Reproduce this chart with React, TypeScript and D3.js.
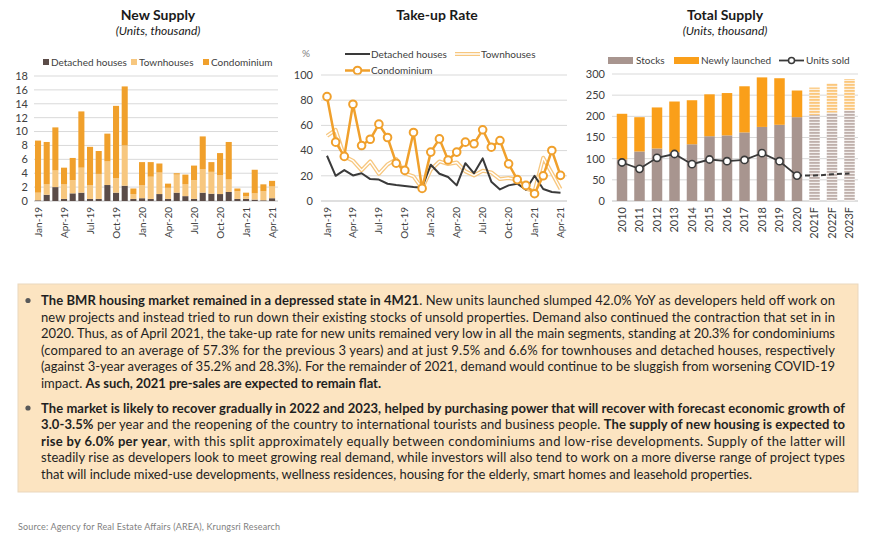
import * as d3 from "d3";

// ---- New Supply (units, thousand) ----
const months = [
  "Jan-19", "Feb-19", "Mar-19", "Apr-19", "May-19", "Jun-19", "Jul-19", "Aug-19", "Sep-19", "Oct-19", "Nov-19", "Dec-19",
  "Jan-20", "Feb-20", "Mar-20", "Apr-20", "May-20", "Jun-20", "Jul-20", "Aug-20", "Sep-20", "Oct-20", "Nov-20", "Dec-20",
  "Jan-21", "Feb-21", "Mar-21", "Apr-21",
];
const monthTicks = ["Jan-19", "Apr-19", "Jul-19", "Oct-19", "Jan-20", "Apr-20", "Jul-20", "Oct-20", "Jan-21", "Apr-21"];
const supplyDetached = [0.1, 0.9, 2.0, 0.3, 1.1, 1.2, 0.3, 0.3, 2.3, 1.2, 2.2, 0.3, 0.4, 0.3, 1.0, 0.3, 1.2, 0.7, 0.3, 1.2, 1.05, 1.0, 1.3, 0.3, 0.3, 0.2, 0.1, 0.4];
const supplyTownhouses = [1.1, 1.5, 2.4, 2.1, 1.9, 3.6, 2.0, 3.6, 3.4, 2.1, 5.8, 0.7, 1.9, 3.2, 3.1, 1.6, 2.6, 1.7, 2.7, 3.4, 3.15, 2.7, 1.8, 1.1, 0.4, 0.9, 1.3, 1.7];
const supplyCondo = [7.5, 6.1, 6.2, 2.4, 3.2, 8.1, 5.5, 3.3, 4.0, 10.4, 8.5, 0.8, 3.3, 2.1, 1.3, 0.6, 0.2, 1.4, 2.1, 4.7, 1.4, 3.2, 5.4, 0.4, 0.5, 3.4, 1.0, 0.8];
const supplyTicks = [0, 2, 4, 6, 8, 10, 12, 14, 16, 18];

// ---- Take-up rate (%) ----
const takeDetached = [35.9, 20, 24.5, 20.3, 22, 17.4, 17, 13.7, 12.7, 11.9, 11.1, 10.6, 28.8, 21.6, 19, 12.4, 30, 22, 33.8, 15.3, 9.2, 12.4, 13.7, 9, 20, 9.5, 7.1, 6.6];
const takeTownhouses = [51.7, 56.5, 35.4, 32, 24.3, 31.4, 21.6, 29, 33.2, 22, 19.5, 10, 24.8, 31.4, 29.3, 30.6, 23.5, 20.3, 24, 22.7, 17.4, 18.2, 17, 9.8, 7.7, 34.3, 22.2, 9.5];
const takeCondo = [82.8, 46.7, 35.4, 76.8, 44, 49, 61, 50.4, 30, 24.3, 54.4, 10, 38.8, 49.3, 32.5, 38.8, 46.7, 45.4, 56.5, 42.7, 48, 29.5, 17, 12.4, 5.8, 20, 40.1, 20.3];
const takeTicks = [0, 20, 40, 60, 80, 100];

// ---- Total supply (units, thousand) ----
const years = ["2010", "2011", "2012", "2013", "2014", "2015", "2016", "2017", "2018", "2019", "2020", "2021F", "2022F", "2023F"];
const stocks = [98, 117, 124, 115, 134, 153, 155, 162, 175, 180, 198, 203, 209, 214];
const newlyLaunched = [108, 81, 97, 120, 104, 99, 100, 109, 117, 110, 63, 65, 69, 74];
const unitsSold = [91, 76, 102, 111, 87, 98, 94, 97, 113, 94, 60, 60, 63, 65];
const totalTicks = [0, 50, 100, 150, 200, 250, 300];

const FONT = "Lato, 'Open Sans', sans-serif";
const TXT = "#404040";
const GRID = "#d9d9d9";
const C_DET = "#5b4c48";
const C_TOWN = "#f7c77f";
const C_CONDO = "#f0a02c";
const C_STOCK = "#a8958f";
const C_NEW = "#fa9f1a";

type Seg = [string, boolean];
const para1: Seg[][] = [
  [["The BMR housing market remained in a depressed state in 4M21", true], [". New units launched slumped 42.0% YoY as developers held off work on", false]],
  [["new projects and instead tried to run down their existing stocks of unsold properties. Demand also continued the contraction that set in in", false]],
  [["2020. Thus, as of April 2021, the take-up rate for new units remained very low in all the main segments, standing at 20.3% for condominiums", false]],
  [["(compared to an average of 57.3% for the previous 3 years) and at just 9.5% and 6.6% for townhouses and detached houses, respectively", false]],
  [["(against 3-year averages of 35.2% and 28.3%). For the remainder of 2021, demand would continue to be sluggish from worsening COVID-19", false]],
  [["impact. ", false], ["As such, 2021 pre-sales are expected to remain flat.", true]],
];
const para2: Seg[][] = [
  [["The market is likely to recover gradually in 2022 and 2023, helped by purchasing power that will recover with forecast economic growth of", true]],
  [["3.0-3.5%", true], [" per year and the reopening of the country to international tourists and business people. ", false], ["The supply of new housing is expected to", true]],
  [["rise by 6.0% per year", true], [", with this split approximately equally between condominiums and low-rise developments. Supply of the latter will", false]],
  [["steadily rise as developers look to meet growing real demand, while investors will also tend to work on a more diverse range of project types", false]],
  [["that will include mixed-use developments, wellness residences, housing for the elderly, smart homes and leasehold properties.", false]],
];

function VLabel({ x, y, text, size = 10 }: { x: number; y: number; text: string; size?: number }) {
  return (
    <text transform={`translate(${x},${y}) rotate(-90)`} textAnchor="end" dy="0.35em" fontSize={size} fill={TXT}>
      {text}
    </text>
  );
}

function NewSupply() {
  const x = d3.scaleBand<string>().domain(months).range([33.7, 276.4]).paddingInner(0.3).paddingOuter(0.15);
  const y = d3.scaleLinear().domain([0, 18]).range([201, 76]);
  const rows = months.map((m, i) => ({ m, det: supplyDetached[i], town: supplyTownhouses[i], condo: supplyCondo[i] }));
  const series = d3.stack<any>().keys(["det", "town", "condo"])(rows);
  const colors = [C_DET, C_TOWN, C_CONDO];
  return (
    <g>
      <text x={158} y={20} textAnchor="middle" fontSize={14} fontWeight="bold" fill="#1a1a1a">New Supply</text>
      <text x={158} y={35} textAnchor="middle" fontSize={12} fontStyle="italic" fill="#1a1a1a">(Units, thousand)</text>
      {[["Detached houses", 43, C_DET], ["Townhouses", 131, C_TOWN], ["Condominium", 203, C_CONDO]].map(([t, lx, c]) => (
        <g key={t as string}>
          <rect x={lx as number} y={59} width={6} height={6} fill={c as string} />
          <text x={(lx as number) + 8} y={65.5} fontSize={10} fill={TXT}>{t}</text>
        </g>
      ))}
      {supplyTicks.map((t) => (
        <g key={t}>
          <line x1={34} x2={278} y1={y(t)} y2={y(t)} stroke={t === 0 ? "#bfbfbf" : GRID} strokeWidth={1} />
          <text x={28} y={y(t)} dy="0.35em" textAnchor="end" fontSize={11} fill={TXT}>{t}</text>
        </g>
      ))}
      {series.map((s, si) =>
        s.map((d: any) => (
          <rect key={si + d.data.m} x={x(d.data.m)} width={x.bandwidth()} y={y(d[1])} height={y(d[0]) - y(d[1])} fill={colors[si]} />
        ))
      )}
      {monthTicks.map((m) => (
        <VLabel key={m} x={(x(m) as number) + x.bandwidth() / 2} y={207} text={m} />
      ))}
    </g>
  );
}

function TakeUp() {
  const x = d3.scalePoint<string>().domain(months).range([327, 560.5]);
  const y = d3.scaleLinear().domain([0, 100]).range([201, 75]);
  const line = d3.line<number>().x((_, i) => x(months[i]) as number).y((d) => y(d));
  return (
    <g>
      <text x={437} y={20} textAnchor="middle" fontSize={14} fontWeight="bold" fill="#1a1a1a">Take-up Rate</text>
      <text x={302} y={57} fontSize={10} fill="#7f7f7f">%</text>
      <line x1={345} x2={370} y1={54} y2={54} stroke="#3a3a3a" strokeWidth={2} />
      <text x={371} y={57.5} fontSize={10} fill={TXT}>Detached houses</text>
      <line x1={455} x2={480} y1={54} y2={54} stroke={C_TOWN} strokeWidth={4} />
      <line x1={455} x2={480} y1={54} y2={54} stroke="#fff" strokeWidth={1.5} />
      <text x={481} y={57.5} fontSize={10} fill={TXT}>Townhouses</text>
      <line x1={345} x2={370} y1={70.5} y2={70.5} stroke={C_CONDO} strokeWidth={2.5} />
      <circle cx={357.5} cy={70.5} r={3.8} fill="#fff" stroke={C_CONDO} strokeWidth={2} />
      <text x={371} y={74} fontSize={10} fill={TXT}>Condominium</text>
      {takeTicks.map((t) => (
        <g key={t}>
          <line x1={321} x2={567} y1={y(t)} y2={y(t)} stroke={t === 0 ? "#bfbfbf" : GRID} strokeWidth={1} />
          <text x={313} y={y(t)} dy="0.35em" textAnchor="end" fontSize={11} fill={TXT}>{t}</text>
        </g>
      ))}
      <path d={line(takeTownhouses) as string} fill="none" stroke={C_TOWN} strokeWidth={4} strokeLinejoin="round" />
      <path d={line(takeTownhouses) as string} fill="none" stroke="#fff" strokeWidth={1.4} strokeLinejoin="round" />
      <path d={line(takeDetached) as string} fill="none" stroke="#3a3a3a" strokeWidth={2} strokeLinejoin="round" />
      <path d={line(takeCondo) as string} fill="none" stroke={C_CONDO} strokeWidth={2.5} strokeLinejoin="round" />
      {takeCondo.map((v, i) => (
        <circle key={i} cx={x(months[i])} cy={y(v)} r={3.8} fill="#fff" stroke={C_CONDO} strokeWidth={2} />
      ))}
      {monthTicks.map((m) => (
        <VLabel key={m} x={x(m) as number} y={207} text={m} />
      ))}
    </g>
  );
}

function TotalSupply() {
  const x = d3.scaleBand<string>().domain(years).range([613.25, 858.25]).paddingInner(0.4).paddingOuter(0.2);
  const y = d3.scaleLinear().domain([0, 300]).range([201, 74]);
  const cx = (k: string) => (x(k) as number) + x.bandwidth() / 2;
  const isF = (k: string) => k.endsWith("F");
  const actualIdx = years.map((_, i) => i).filter((i) => !isF(years[i]));
  const fcIdx = years.map((_, i) => i).filter((i) => i >= actualIdx[actualIdx.length - 1]);
  const line = d3.line<number>().x((i) => cx(years[i])).y((i) => y(unitsSold[i]));
  return (
    <g>
      <defs>
        <pattern id="stockHatch" width={12} height={3} patternUnits="userSpaceOnUse">
          <rect width={12} height={3} fill="#f3efed" />
          <rect width={12} height={1.8} fill="#bfb0ab" />
        </pattern>
        <pattern id="newHatch" width={12} height={3} patternUnits="userSpaceOnUse">
          <rect width={12} height={3} fill="#fdf1e0" />
          <rect width={12} height={1.8} fill="#fbc77c" />
        </pattern>
      </defs>
      <text x={725} y={20} textAnchor="middle" fontSize={14} fontWeight="bold" fill="#1a1a1a">Total Supply</text>
      <text x={725} y={35} textAnchor="middle" fontSize={12} fontStyle="italic" fill="#1a1a1a">(Units, thousand)</text>
      <rect x={608} y={57} width={25} height={7} fill={C_STOCK} />
      <text x={636} y={64} fontSize={10} fill={TXT}>Stocks</text>
      <rect x={674} y={57} width={25} height={7} fill={C_NEW} />
      <text x={701} y={64} fontSize={10} fill={TXT}>Newly launched</text>
      <line x1={779} x2={804} y1={60.5} y2={60.5} stroke="#3a3a3a" strokeWidth={1.8} />
      <circle cx={791.5} cy={60.5} r={3} fill="#fff" stroke="#3a3a3a" strokeWidth={1.5} />
      <text x={806} y={64} fontSize={10} fill={TXT}>Units sold</text>
      {totalTicks.map((t) => (
        <g key={t}>
          <line x1={612} x2={858} y1={y(t)} y2={y(t)} stroke={t === 0 ? "#bfbfbf" : GRID} strokeWidth={1} />
          <text x={605} y={y(t)} dy="0.35em" textAnchor="end" fontSize={11} fill={TXT}>{t}</text>
        </g>
      ))}
      {years.map((k, i) => (
        <g key={k}>
          <rect x={x(k)} width={x.bandwidth()} y={y(stocks[i])} height={y(0) - y(stocks[i])} fill={isF(k) ? "url(#stockHatch)" : C_STOCK} />
          <rect x={x(k)} width={x.bandwidth()} y={y(stocks[i] + newlyLaunched[i])} height={y(0) - y(newlyLaunched[i])} fill={isF(k) ? "url(#newHatch)" : C_NEW} />
        </g>
      ))}
      <path d={line(actualIdx) as string} fill="none" stroke="#3a3a3a" strokeWidth={1.8} />
      <path d={line(fcIdx) as string} fill="none" stroke="#3a3a3a" strokeWidth={2} strokeDasharray="5,3" />
      {actualIdx.map((i) => (
        <circle key={i} cx={cx(years[i])} cy={y(unitsSold[i])} r={3.6} fill="#fff" stroke="#3a3a3a" strokeWidth={1.6} />
      ))}
      {years.map((k) => (
        <VLabel key={k} x={cx(k)} y={207} text={k} size={11} />
      ))}
    </g>
  );
}

function Para({ lines, y0, step, widths }: { lines: Seg[][]; y0: number; step: number; widths: number[] }) {
  return (
    <g>
      <circle cx={28} cy={y0 - 4.5} r={2.6} fill="#595959" />
      {lines.map((segs, li) => (
        <text key={li} x={41} y={y0 + li * step} fontSize={13} fill="#1f1f1f" textLength={widths[li]} lengthAdjust="spacing">
          {segs.map(([t, b], si) => (
            <tspan key={si} fontWeight={b ? "bold" : "normal"}>{t}</tspan>
          ))}
        </text>
      ))}
    </g>
  );
}

export default function App() {
  return (
    <div style={{ position: "absolute", left: 0, top: 0 }}>
      <svg width={870} height={541} style={{ display: "block", background: "#fff", fontFamily: FONT }}>
        <NewSupply />
        <TakeUp />
        <TotalSupply />
        <rect x={18} y={284} width={840} height={208} fill="#fce4c1" stroke="#ead7bd" strokeWidth={1} />
        <Para lines={para1} y0={305} step={16.5} widths={[794, 794, 794, 794, 794, 340]} />
        <Para lines={para2} y0={412.5} step={16.6} widths={[804, 804, 804, 804, 711]} />
        <text x={18} y={530} fontSize={9} fill="#7f7f7f" textLength={262} lengthAdjust="spacing">
          Source: Agency for Real Estate Affairs (AREA), Krungsri Research
        </text>
      </svg>
    </div>
  );
}
